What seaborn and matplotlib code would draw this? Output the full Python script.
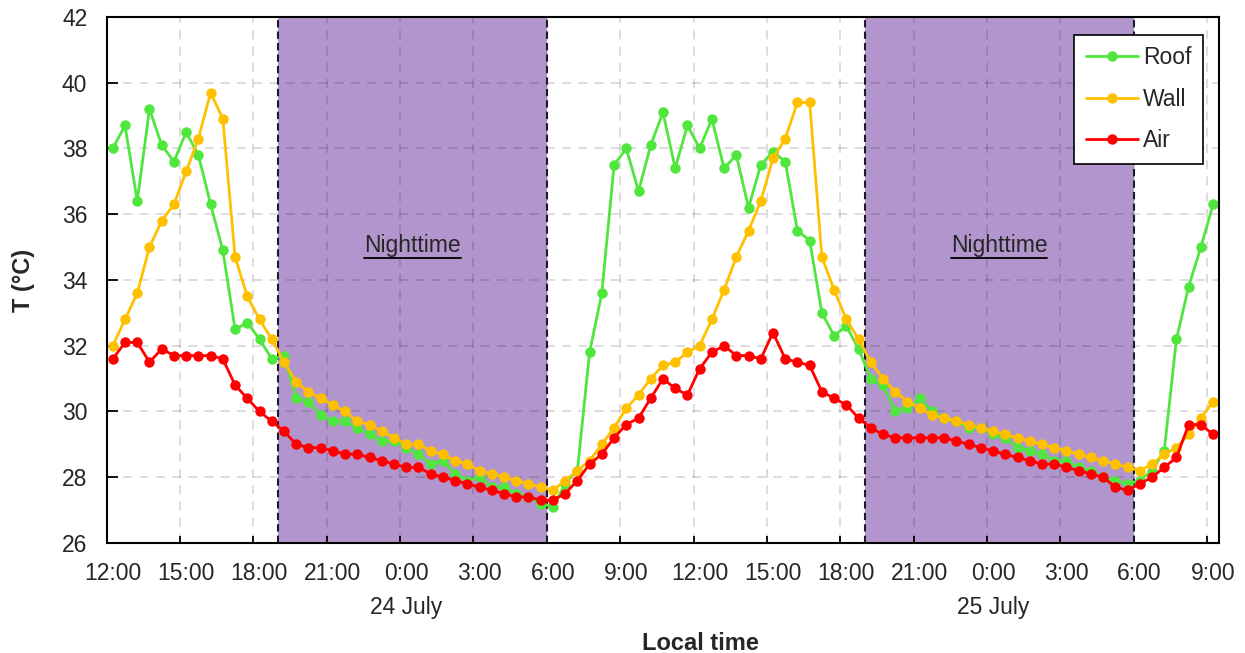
import numpy as np
import pandas as pd
import matplotlib
matplotlib.use("Agg")
import matplotlib.pyplot as plt
import matplotlib.transforms as mtransforms
from matplotlib.lines import Line2D
import seaborn as sns

# Half-hourly readings, 23 July 12:15 -> 25 July 09:15
sample_times = pd.date_range("2023-07-23 12:15", periods=91, freq="30min")

roof = [38.0, 38.7, 36.4, 39.2, 38.1, 37.6, 38.5, 37.8, 36.3, 34.9, 32.5, 32.7, 32.2, 31.6, 31.7, 30.4,
        30.3, 29.9, 29.7, 29.7, 29.5, 29.3, 29.1, 29.1, 28.9, 28.7, 28.4, 28.5, 28.1, 27.9, 28.0, 27.7,
        27.7, 27.5, 27.4, 27.2, 27.1,
        27.8, 28.2, 31.8, 33.6, 37.5, 38.0, 36.7, 38.1, 39.1, 37.4, 38.7, 38.0, 38.9,
        37.4, 37.8, 36.2, 37.5, 37.9, 37.6, 35.5, 35.2, 33.0, 32.3, 32.6, 31.9, 31.0,
        30.8, 30.0, 30.1, 30.4, 30.0, 29.8, 29.7, 29.5, 29.5, 29.3, 29.2, 28.9, 28.8,
        28.7, 28.5, 28.5, 28.3, 28.2, 28.0, 27.9, 27.8, 27.9, 28.2, 28.8, 32.2, 33.8, 35.0, 36.3]

wall = [32.0, 32.8, 33.6, 35.0, 35.8, 36.3, 37.3, 38.3, 39.7, 38.9, 34.7, 33.5, 32.8, 32.2, 31.5, 30.9,
        30.6, 30.4, 30.2, 30.0, 29.7, 29.6, 29.4, 29.2, 29.0, 29.0, 28.8, 28.7, 28.5, 28.4, 28.2, 28.1,
        28.0, 27.9, 27.8, 27.7, 27.6,
        27.9, 28.2, 28.5, 29.0, 29.5, 30.1, 30.5, 31.0, 31.4, 31.5, 31.8, 32.0, 32.8,
        33.7, 34.7, 35.5, 36.4, 37.7, 38.3, 39.4, 39.4, 34.7, 33.7, 32.8, 32.2, 31.5,
        31.0, 30.6, 30.3, 30.1, 29.9, 29.8, 29.7, 29.6, 29.5, 29.4, 29.3, 29.2, 29.1,
        29.0, 28.9, 28.8, 28.7, 28.6, 28.5, 28.4, 28.3, 28.2, 28.4, 28.7, 28.9, 29.3, 29.8, 30.3]

air = [31.6, 32.1, 32.1, 31.5, 31.9, 31.7, 31.7, 31.7, 31.7, 31.6, 30.8, 30.4, 30.0, 29.7, 29.4, 29.0,
       28.9, 28.9, 28.8, 28.7, 28.7, 28.6, 28.5, 28.4, 28.3, 28.3, 28.1, 28.0, 27.9, 27.8, 27.7, 27.6,
       27.5, 27.4, 27.4, 27.3, 27.3,
       27.5, 27.9, 28.4, 28.7, 29.2, 29.6, 29.8, 30.4, 31.0, 30.7, 30.5, 31.3, 31.8,
       32.0, 31.7, 31.7, 31.6, 32.4, 31.6, 31.5, 31.4, 30.6, 30.4, 30.2, 29.8, 29.5,
       29.3, 29.2, 29.2, 29.2, 29.2, 29.2, 29.1, 29.0, 28.9, 28.8, 28.7, 28.6, 28.5,
       28.4, 28.4, 28.3, 28.2, 28.1, 28.0, 27.7, 27.6, 27.8, 28.0, 28.3, 28.6, 29.6, 29.6, 29.3]

series_names = ["Roof", "Wall", "Air"]
series_colors = ["#4FE63E", "#FFC000", "#FF0000"]

tick_labels = ["12:00", "15:00", "18:00", "21:00", "0:00", "3:00", "6:00", "9:00",
               "12:00", "15:00", "18:00", "21:00", "0:00", "3:00", "6:00", "9:00"]
night_windows = [("2023-07-23 19:00", "2023-07-24 06:00"),
                 ("2023-07-24 19:00", "2023-07-25 06:00")]
date_labels = [("2023-07-24 00:00", "24 July"), ("2023-07-25 00:00", "25 July")]

origin = pd.Timestamp("2023-07-23 12:00")


def to_hours(t):
    return (pd.Timestamp(t) - origin) / pd.Timedelta(hours=1)


hours = np.array([to_hours(t) for t in sample_times])
df = pd.concat([
    pd.DataFrame({"hour": hours, "T": vals, "series": name})
    for name, vals in zip(series_names, [roof, wall, air])
], ignore_index=True)

sns.set_style("ticks")
plt.rcParams["font.family"] = ["Liberation Sans", "DejaVu Sans"]

fig = plt.figure(figsize=(12.45, 6.53), dpi=100)
ax = fig.add_axes([0.0857, 0.1685, 0.8936, 0.8055])

# night periods
for start, end in night_windows:
    h0, h1 = to_hours(start), to_hours(end)
    ax.axvspan(h0, h1, color="#B395CD", lw=0, zorder=0)
    for h in (h0, h1):
        ax.axvline(h, color="#1B1B2A", lw=1.5, ls=(0, (3.5, 2)), zorder=1.6)

sns.lineplot(data=df, x="hour", y="T", hue="series", hue_order=series_names,
             palette=dict(zip(series_names, series_colors)), marker="o",
             markersize=7.5, markeredgewidth=0, linewidth=2, ax=ax, legend=False)

ax.set_xlim(0, 45.5)
ax.set_ylim(26, 42)
ax.set_xticks(np.arange(0, 46, 3))
ax.set_xticklabels(tick_labels)
ax.set_yticks(np.arange(26, 43, 2))
ax.set_axisbelow(True)
ax.grid(True, color="black", alpha=0.15, lw=1.3, ls=(0, (5, 4)))

ax.tick_params(axis="both", direction="in", labelsize=16.5, width=1.3,
               color="black", pad=14)
ax.tick_params(axis="x", length=5)
ax.tick_params(axis="y", length=8)
for sp in ax.spines.values():
    sp.set_linewidth(1.5)
    sp.set_color("black")

shift = mtransforms.ScaledTranslation(6 / 100, 0, fig.dpi_scale_trans)
for lbl in ax.get_xticklabels():
    lbl.set_transform(lbl.get_transform() + shift)

ax.set_xlabel("Local time", fontsize=17, fontweight="bold")
ax.xaxis.set_label_coords(0.534, -0.2034)
ax.xaxis.label.set_va("baseline")
ax.set_ylabel("T (°C)", fontsize=17, fontweight="bold")
ax.yaxis.set_label_coords(-0.075, 0.5)
ax.yaxis.label.set_va("center")

blend = mtransforms.blended_transform_factory(ax.transData, ax.transAxes)
for t, txt in date_labels:
    ax.text(to_hours(t), -0.135, txt, transform=blend + shift, ha="center",
            va="baseline", fontsize=16.5, clip_on=False)

# "Nighttime" captions, underlined
captions = []
for start, end in night_windows:
    mid = (to_hours(start) + to_hours(end)) / 2
    captions.append(ax.text(mid, 34.84, "Nighttime", ha="center", va="baseline",
                            fontsize=16.5, zorder=3))
fig.canvas.draw()
inv = ax.transData.inverted()
for cap in captions:
    bb = cap.get_window_extent()
    x0 = inv.transform((bb.x0, bb.y0))[0]
    x1 = inv.transform((bb.x1, bb.y0))[0]
    ax.plot([x0, x1], [34.68, 34.68], color="black", lw=1.3, zorder=3)

handles = [Line2D([], [], color=c, marker="o", lw=2, ms=7.5, mew=0) for c in series_colors]
leg = ax.legend(handles, series_names, loc="upper right", bbox_to_anchor=(0.9856, 0.9658),
                borderaxespad=0, frameon=True, fancybox=False, edgecolor="black",
                framealpha=1, fontsize=16.5, handlelength=2.25, handletextpad=0.25,
                labelspacing=0.8, borderpad=0.5)
leg.get_frame().set_linewidth(1.2)

fig.savefig("out.png", dpi=100)
